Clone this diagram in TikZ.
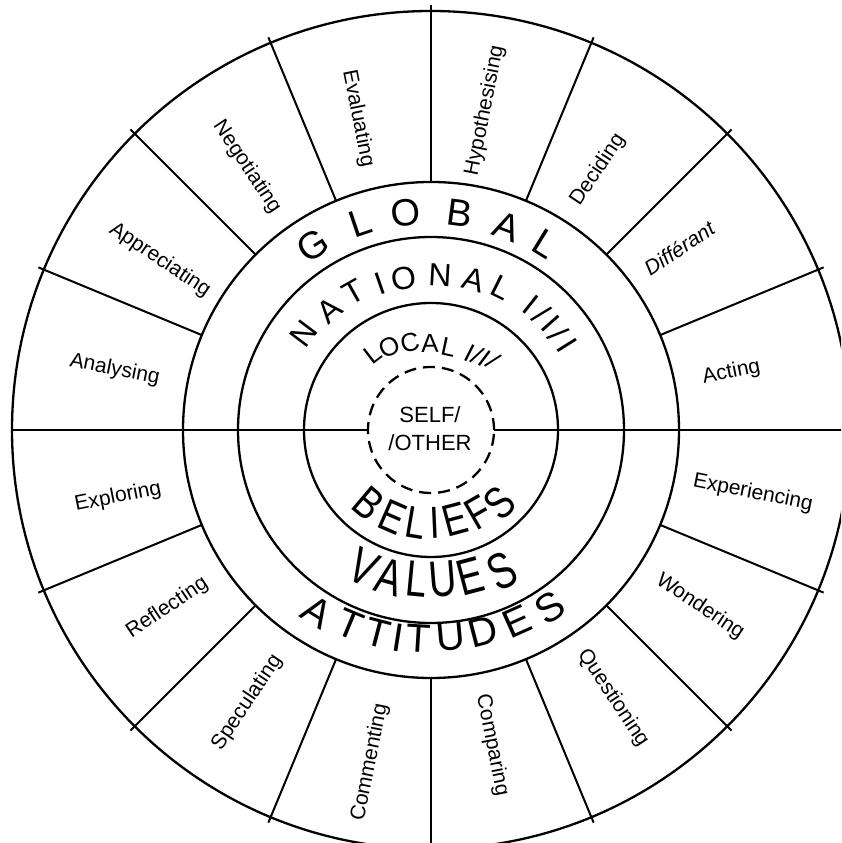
\documentclass[tikz,border=0pt]{standalone}
\usepackage{fontspec}
\setmainfont{Liberation Sans}
\usetikzlibrary{calc}
\newcommand\slashmark{/}
\begin{document}
\begin{tikzpicture}[x=1pt,y=1pt,
  ring/.style={line width=2.3pt},
  divider/.style={line width=2.0pt},
  dashring/.style={line width=2.3pt, dash pattern=on 12pt off 7pt},
  outerlabel/.style={font=\fontsize{21}{24}\selectfont, inner sep=0pt},
  globaltxt/.style={font=\fontsize{38}{40}\selectfont, inner sep=0pt},
  nationaltxt/.style={font=\fontsize{32}{34}\selectfont, inner sep=0pt},
  localtxt/.style={font=\fontsize{26}{28}\selectfont, inner sep=0pt},
  beliefstxt/.style={font=\fontsize{45}{47}\selectfont, inner sep=0pt},
  valuestxt/.style={font=\fontsize{51}{53}\selectfont, inner sep=0pt},
  attitudestxt/.style={font=\fontsize{40}{42}\selectfont, inner sep=0pt},
  selftxt/.style={font=\fontsize{22}{28}\selectfont, align=center, inner sep=0pt}]
\useasboundingbox (0,0) rectangle (841,843);
\clip (0,0) rectangle (841,843);
\coordinate (C) at (431,413);
% circles
\draw[ring] (C) circle (419pt);
\draw[ring] (C) circle (248pt);
\draw[ring] (C) circle (193pt);
\draw[ring] (C) circle (127pt);
\draw[dashring] (C) circle (63pt);
% horizontal line
\coordinate (hl1) at ($(C)+(180:419pt)$);
\coordinate (hl2) at ($(C)+(180:63pt)$);
\coordinate (hr1) at ($(C)+(0:63pt)$);
\coordinate (hr2) at ($(C)+(0:430pt)$);
\draw[divider] (hl1) -- (hl2);
\draw[divider] (hr1) -- (hr2);
% radial dividers
\foreach \k in {1,...,7,9,10,...,15}{
  \coordinate (di\k) at ($(C)+(22.5*\k:248pt)$);
  \coordinate (do\k) at ($(C)+(22.5*\k:425pt)$);
  \draw[divider] (di\k) -- (do\k);
}
% outer labels
\foreach \t/\a/\r/\rot [count=\i] in {
  Acting/10.9/306/11.25,
  \textit{Différant}/36.2/308/33.75,
  Deciding/57.3/309/56.25,
  Hypothesising/80.4/324/78.75,
  Evaluating/103.2/320/-78.75,
  Negotiating/125/321/-56.25,
  Appreciating/147.9/320/-33.75,
  Analysing/169.2/322/-11.25,
  Exploring/192.1/320/11.25,
  Reflecting/214/318/33.75,
  Speculating/236/329/56.25,
  Commenting/259.6/338/78.75,
  Comparing/281/321/-78.75,
  Questioning/304.2/324/-56.25,
  Wondering/326.7/322/-33.75,
  Experiencing/348.9/328/-11.25}
  \node[outerlabel, rotate=\rot] (ol\i) at ($(C)+(\a:\r pt)$) {\t};
% GLOBAL
\foreach \t/\a/\r [count=\i] in {G/122.7/219, L/108.7/219, O/96.6/219, B/82.5/219, A/69.5/217, L/58.5/218}
  \node[globaltxt, rotate=\a-90] (gl\i) at ($(C)+(\a:\r pt)$) {\t};
% NATIONAL I/I/I
\foreach \t/\a/\r [count=\i] in {N/143/160, A/130.5/157, T/119.5/158, I/109/155, O/100/154, N/86.7/155, A/74/156, L/63.6/159, I/51.5/160, \slashmark/46.5/160, I/41.5/160, \slashmark/37/160, I/32/160}
  \node[nationaltxt, rotate=\a-90] (na\i) at ($(C)+(\a:\r pt)$) {\t};
% LOCAL I/I/
\foreach \t/\a/\r [count=\i] in {L/127.5/96, O/116.5/93, C/103.6/89.5, A/90.7/87, L/78/85, I/63/86, \slashmark/58/88, I/53/90, \slashmark/48/93}
  \node[localtxt, rotate=\a-90] (lo\i) at ($(C)+(\a:\r pt)$) {\t};
% BELIEFS
\foreach \t/\a/\r [count=\i] in {B/229.7/96, E/246.4/95, L/260.5/94, I/272.5/93, E/285/93, F/299.8/95, S/313.4/100}
  \node[beliefstxt, rotate=\a+90, xscale=0.8] (be\i) at ($(C)+(\a:\r pt)$) {\t};
% VALUES
\foreach \t/\a/\r [count=\i] in {V/243.9/152.5, A/254.4/152.6, L/264.6/150, U/274.6/150, E/284.9/151, S/296.6/158}
  \node[valuestxt, rotate=\a+90, xscale=0.75] (va\i) at ($(C)+(\a:\r pt)$) {\t};
% ATTITUDES
\foreach \t/\a/\r [count=\i] in {A/237.9/215, T/247.3/211, T/255.4/210, I/261/210, T/266.6/209, U/275.3/208, D/284.6/208, E/294.1/210, S/303.8/214}
  \node[attitudestxt, rotate=\a+90] (at\i) at ($(C)+(\a:\r pt)$) {\t};
% SELF/OTHER
\node[selftxt] (self) at ($(C)+(-1,1)$) {SELF/\\/OTHER};
\end{tikzpicture}
\end{document}
